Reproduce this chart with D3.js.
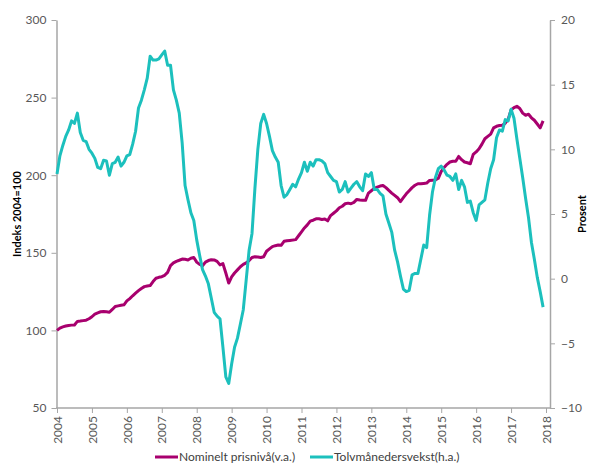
<!DOCTYPE html>
<html>
<head>
<meta charset="utf-8">
<script src="https://cdn.jsdelivr.net/npm/d3@7"></script>
<style>
  body { margin: 0; background: #fff; }
  svg text { font-family: Lato, "Open Sans", sans-serif; }
</style>
</head>
<body>
<script>
// Monthly data, Jan 2004 - Dec 2017
const startYear = 2004;
const yearTicks = d3.range(2004, 2019);
const leftTicks = [50, 100, 150, 200, 250, 300];
const rightTicks = [-10, -5, 0, 5, 10, 15, 20];

// Nominelt prisnivå, indeks 2004=100 (venstre akse)
const prisniva = [
  100.0, 101.5, 102.3, 102.8, 103.2, 103.4, 103.5, 105.8, 106.0, 106.3, 106.6, 107.5,
  108.8, 110.5, 111.3, 112.0, 112.2, 112.0, 111.7, 113.5, 115.4, 115.8, 116.2, 116.5,
  119.0, 120.5, 122.3, 124.0, 125.6, 127.0, 128.2, 128.6, 128.9, 131.5, 133.6, 134.2,
  134.6, 135.5, 137.4, 141.7, 143.5, 144.5, 145.2, 146.0, 145.8, 145.4, 146.5, 147.0,
  144.0, 142.5, 141.7, 144.0, 145.0, 145.5, 145.4, 144.5, 142.2, 143.0, 137.0, 130.5,
  134.5, 137.0, 139.0, 141.0, 142.5, 143.5, 145.0, 147.0, 147.5, 147.3, 147.0, 147.5,
  151.0, 152.5, 154.0, 154.6, 155.0, 154.8, 157.4, 157.8, 158.0, 158.2, 158.5, 161.0,
  163.5, 166.0, 168.0, 170.4, 171.0, 171.9, 171.9, 171.5, 171.8, 170.6, 174.0, 175.5,
  177.0, 179.0, 180.0, 181.6, 182.0, 181.6, 182.5, 184.4, 184.0, 183.8, 183.8, 188.5,
  190.0, 191.5, 192.3, 193.0, 193.4, 192.0, 190.2, 188.5, 187.0, 185.5, 183.0, 185.5,
  188.0, 190.0, 192.0, 193.5, 194.5, 194.5, 194.7, 194.9, 196.6, 196.8, 196.9, 198.0,
  202.5, 205.0, 207.0, 208.5, 209.0, 209.0, 212.1, 210.0, 208.5, 208.0, 207.4, 213.4,
  215.0, 217.0, 220.0, 223.5, 225.0, 226.5, 230.5, 231.5, 232.0, 232.2, 233.5, 236.0,
  242.0, 243.5, 244.4, 243.0, 240.0, 238.6, 239.3, 237.0, 235.4, 233.0, 230.5, 235.0
];

// Tolvmånedersvekst, prosent (høyre akse)
const vekst = [
  8.1, 9.5, 10.3, 11.0, 11.5, 12.2, 12.0, 12.8, 11.3, 10.7, 10.6, 10.0,
  9.7, 9.3, 8.6, 8.5, 9.15, 9.1, 8.0, 8.9, 9.0, 9.4, 8.7, 9.0,
  9.5, 9.6, 10.4, 11.4, 13.2, 13.8, 14.6, 15.5, 17.2, 16.9, 16.9, 17.0,
  17.3, 17.6, 16.5, 16.5, 14.6, 13.8, 12.8, 10.5, 7.2, 6.1, 5.1, 4.5,
  3.0, 1.8, 0.7, 0.2, -0.4, -1.5, -2.6, -2.9, -3.1, -5.3, -7.6, -8.1,
  -6.6, -5.3, -4.6, -3.5, -2.4, -0.1, 2.2, 3.5, 7.0, 10.0, 12.0, 12.7,
  12.0, 11.0, 9.9, 9.4, 9.0, 7.2, 6.3, 6.5, 6.9, 7.3, 7.1, 7.7,
  8.2, 9.0, 8.3, 9.0, 8.7, 9.2, 9.2, 9.1, 8.9, 8.2, 7.9, 7.6,
  7.5, 6.7, 6.9, 7.5, 6.7, 7.0, 7.3, 7.5, 7.1, 6.8, 8.1, 7.9,
  8.2, 6.9, 6.9, 6.6, 6.4, 5.0, 4.3, 3.6, 2.2, 1.3, 0.2, -0.8,
  -1.0, -0.9, 0.3, 0.4, 0.4, 1.5, 2.6, 2.4, 4.9, 6.7, 7.8, 8.5,
  8.7, 8.4, 8.0, 7.9, 7.6, 8.1, 6.9, 7.6, 7.1, 5.9, 6.0, 5.1,
  4.5, 5.7, 5.9, 6.1, 7.4, 8.5, 9.2, 10.9, 11.5, 11.4, 12.3, 12.2,
  13.1, 12.4, 10.8, 9.3, 7.8, 6.2, 4.7, 2.8, 1.5, 0.1, -1.0, -2.2
];

const seriesNames = ["Nominelt prisnivå(v.a.)", "Tolvmånedersvekst(h.a.)"];
const colors = ["#a8006e", "#1cc0bd"];

const width = 589, height = 463;
const margin = { top: 20, right: 43, bottom: 55, left: 57 };

const svg = d3.select("body")
  .append("svg")
  .attr("width", width)
  .attr("height", height);

const x = d3.scaleLinear()
  .domain([2004, 2018])
  .range([margin.left, width - margin.right]);

const yLeft = d3.scaleLinear()
  .domain([50, 300])
  .range([height - margin.bottom, margin.top]);

const yRight = d3.scaleLinear()
  .domain([-10, 20])
  .range([height - margin.bottom, margin.top]);

const axisColor = "#a6a6a6";
const labelColor = "#595959";

function styleAxis(g) {
  g.select(".domain").attr("stroke", axisColor).attr("stroke-width", 1.5);
  g.selectAll(".tick line").attr("stroke", axisColor);
  g.selectAll(".tick text").attr("fill", labelColor).style("font-size", "12px");
}

// Left axis
svg.append("g")
  .attr("transform", `translate(${margin.left - 0.5},0)`)
  .call(d3.axisLeft(yLeft).tickValues(leftTicks).tickSize(5).tickSizeOuter(0).tickPadding(5))
  .call(styleAxis);

// Right axis
svg.append("g")
  .attr("transform", `translate(${width - margin.right + 4},0)`)
  .call(d3.axisRight(yRight).tickValues(rightTicks).tickSize(5).tickSizeOuter(0).tickPadding(6))
  .call(styleAxis);

// Bottom axis with rotated year labels
svg.append("g")
  .attr("transform", `translate(0,${height - margin.bottom})`)
  .call(d3.axisBottom(x).tickValues(yearTicks).tickFormat(d3.format("d")).tickSize(5).tickSizeOuter(0))
  .call(styleAxis)
  .call(g => g.select(".domain").attr("d", `M${margin.left - 1},0H${width - margin.right + 4}`))
  .call(g => g.selectAll(".tick text")
    .attr("transform", "rotate(-90)")
    .attr("text-anchor", "end")
    .attr("x", -8)
    .attr("y", 0)
    .attr("dy", "0.35em"));

// Axis titles
svg.append("text")
  .attr("transform", `translate(21,${(margin.top + height - margin.bottom) / 2}) rotate(-90)`)
  .attr("text-anchor", "middle")
  .style("font-size", "11px")
  .style("font-weight", "bold")
  .attr("fill", "#000")
  .text("Indeks 2004=100");

svg.append("text")
  .attr("transform", `translate(586,${(margin.top + height - margin.bottom) / 2}) rotate(-90)`)
  .attr("text-anchor", "middle")
  .style("font-size", "11px")
  .style("font-weight", "bold")
  .attr("fill", "#000")
  .text("Prosent");

// Lines
const lineLeft = d3.line()
  .x((d, i) => x(startYear + i / 12))
  .y(d => yLeft(d));

const lineRight = d3.line()
  .x((d, i) => x(startYear + i / 12))
  .y(d => yRight(d));

svg.append("path")
  .datum(prisniva)
  .attr("fill", "none")
  .attr("stroke", colors[0])
  .attr("stroke-width", 3)
  .attr("stroke-linejoin", "round")
  .attr("d", lineLeft);

svg.append("path")
  .datum(vekst)
  .attr("fill", "none")
  .attr("stroke", colors[1])
  .attr("stroke-width", 3)
  .attr("stroke-linejoin", "round")
  .attr("d", lineRight);

// Legend
const legendX = [155, 310];
const legend = svg.append("g").attr("transform", "translate(0,457)");
seriesNames.forEach((name, i) => {
  legend.append("line")
    .attr("x1", legendX[i]).attr("x2", legendX[i] + 23)
    .attr("y1", 0).attr("y2", 0)
    .attr("stroke", colors[i])
    .attr("stroke-width", 3);
  legend.append("text")
    .attr("x", legendX[i] + 24)
    .attr("y", 0)
    .attr("dy", "0.35em")
    .attr("fill", "#404040")
    .style("font-size", "12px")
    .text(name);
});
</script>
</body>
</html>
